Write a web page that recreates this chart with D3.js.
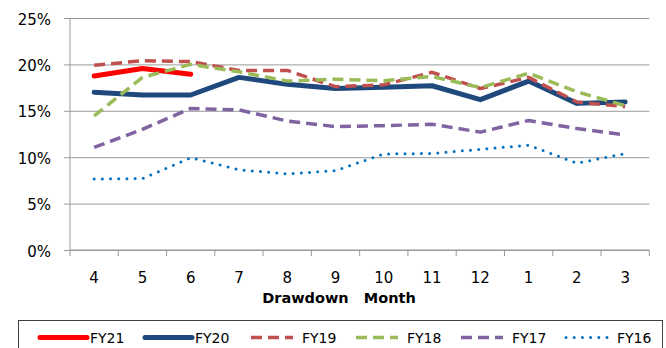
<!DOCTYPE html>
<html>
<head>
<meta charset="utf-8">
<script src="https://cdn.jsdelivr.net/npm/d3@7"></script>
<style>
  html, body { margin: 0; padding: 0; background: #fff; }
  svg { display: block; }
  text { font-family: "DejaVu Sans", sans-serif; fill: #000; }
</style>
</head>
<body>
<svg id="chart" width="666" height="348"></svg>
<script>
// Drawdown months (fiscal year runs April to March)
const months = ["4", "5", "6", "7", "8", "9", "10", "11", "12", "1", "2", "3"];
const yTicks = [0, 5, 10, 15, 20, 25];

// Drawdown rate per month, in percent
const fy21 = [18.75, 19.55, 18.95];
const fy20 = [17.0, 16.7, 16.7, 18.6, 17.85, 17.4, 17.55, 17.7, 16.2, 18.2, 15.8, 15.95];
const fy19 = [19.9, 20.4, 20.3, 19.35, 19.35, 17.6, 17.8, 19.15, 17.4, 18.6, 15.95, 15.45];
const fy18 = [14.45, 18.6, 20.0, 19.2, 18.2, 18.4, 18.25, 18.7, 17.5, 19.05, 17.05, 15.55];
const fy17 = [11.05, 13.0, 15.25, 15.1, 13.9, 13.3, 13.4, 13.55, 12.7, 13.95, 13.1, 12.4];
const fy16 = [7.65, 7.7, 9.95, 8.65, 8.2, 8.55, 10.35, 10.4, 10.85, 11.3, 9.35, 10.4];

const seriesNames = ["FY21", "FY20", "FY19", "FY18", "FY17", "FY16"];
const seriesValues = [fy21, fy20, fy19, fy18, fy17, fy16];
const seriesStyles = [
  { color: "#FF0000", width: 5, dash: null, cap: "round" },
  { color: "#1F497D", width: 5, dash: null, cap: "round" },
  { color: "#C0504D", width: 3.5, dash: "11,6", cap: "butt" },
  { color: "#9BBB59", width: 3.5, dash: "11,6", cap: "butt" },
  { color: "#8064A2", width: 3.5, dash: "11,6", cap: "butt" },
  { color: "#0070C0", width: 3, dash: "0,8.2", cap: "round" }
];

const svg = d3.select("#chart");
const plot = { left: 70, right: 649.3, top: 18, bottom: 250 };

const x = d3.scaleBand().domain(months).range([plot.left, plot.right]);
const y = d3.scaleLinear().domain([0, 25]).range([plot.bottom, plot.top]);

const gridColor = "#9a9a9a";

// Horizontal gridlines with short ticks left of the axis
svg.append("g")
  .attr("transform", `translate(${plot.left},0)`)
  .call(d3.axisLeft(y).tickValues(yTicks).tickSize(-(plot.right - plot.left)).tickFormat(""))
  .call(g => g.select(".domain").remove())
  .call(g => g.selectAll(".tick line").attr("stroke", gridColor).attr("x1", -6));

// Y tick labels
svg.append("g").selectAll("text")
  .data(yTicks)
  .join("text")
  .attr("x", 51)
  .attr("y", d => y(d) + 6.5)
  .attr("text-anchor", "end")
  .style("font-size", "15px")
  .text(d => d + "%");

// Vertical axis line
svg.append("line")
  .attr("x1", plot.left).attr("x2", plot.left)
  .attr("y1", plot.top).attr("y2", plot.bottom)
  .attr("stroke", gridColor);

// X axis line with ticks at the category boundaries
const xAxis = svg.append("g");
xAxis.append("line")
  .attr("x1", plot.left).attr("x2", plot.right)
  .attr("y1", plot.bottom).attr("y2", plot.bottom)
  .attr("stroke", gridColor);
const boundaries = months.map(m => x(m)).concat([x(months[months.length - 1]) + x.bandwidth()]);
xAxis.selectAll("line.tick")
  .data(boundaries)
  .join("line")
  .attr("class", "tick")
  .attr("x1", d => d).attr("x2", d => d)
  .attr("y1", plot.bottom).attr("y2", plot.bottom + 6)
  .attr("stroke", gridColor);
xAxis.selectAll("text")
  .data(months)
  .join("text")
  .attr("x", d => x(d) + x.bandwidth() / 2)
  .attr("y", 282.5)
  .attr("text-anchor", "middle")
  .style("font-size", "15px")
  .text(d => d);

// Axis title
svg.append("text")
  .attr("x", 339)
  .attr("y", 302.5)
  .attr("text-anchor", "middle")
  .style("font-size", "14.5px")
  .style("font-weight", "bold")
  .style("white-space", "pre")
  .text("Drawdown   Month");

// Series lines
const line = d3.line()
  .x((d, i) => x(months[i]) + x.bandwidth() / 2)
  .y(d => y(d));

seriesValues.forEach((vals, i) => {
  const s = seriesStyles[i];
  svg.append("path")
    .datum(vals)
    .attr("d", line)
    .attr("fill", "none")
    .attr("stroke", s.color)
    .attr("stroke-width", s.width)
    .attr("stroke-linejoin", "round")
    .attr("stroke-linecap", s.cap)
    .attr("stroke-dasharray", s.dash);
});

// Legend
svg.append("rect")
  .attr("x", 18.5).attr("y", 320.5)
  .attr("width", 644).attr("height", 60)
  .attr("fill", "none")
  .attr("stroke", "#404040")
  .attr("stroke-width", 1);

const legendX = [40, 145, 251, 356, 461, 566];
const legend = svg.append("g").selectAll("g")
  .data(seriesNames)
  .join("g")
  .attr("transform", (d, i) => `translate(${legendX[i]},337.5)`);

legend.append("line")
  .attr("x1", 0).attr("x2", (d, i) => i < 2 ? 47 : 42)
  .attr("y1", 0).attr("y2", 0)
  .attr("stroke", (d, i) => seriesStyles[i].color)
  .attr("stroke-width", (d, i) => seriesStyles[i].width)
  .attr("stroke-linecap", (d, i) => seriesStyles[i].cap)
  .attr("stroke-dasharray", (d, i) => seriesStyles[i].dash);

legend.append("text")
  .attr("x", (d, i) => i < 2 ? 50 : 51)
  .attr("y", 5.2)
  .style("font-size", "14px")
  .text(d => d);
</script>
</body>
</html>
